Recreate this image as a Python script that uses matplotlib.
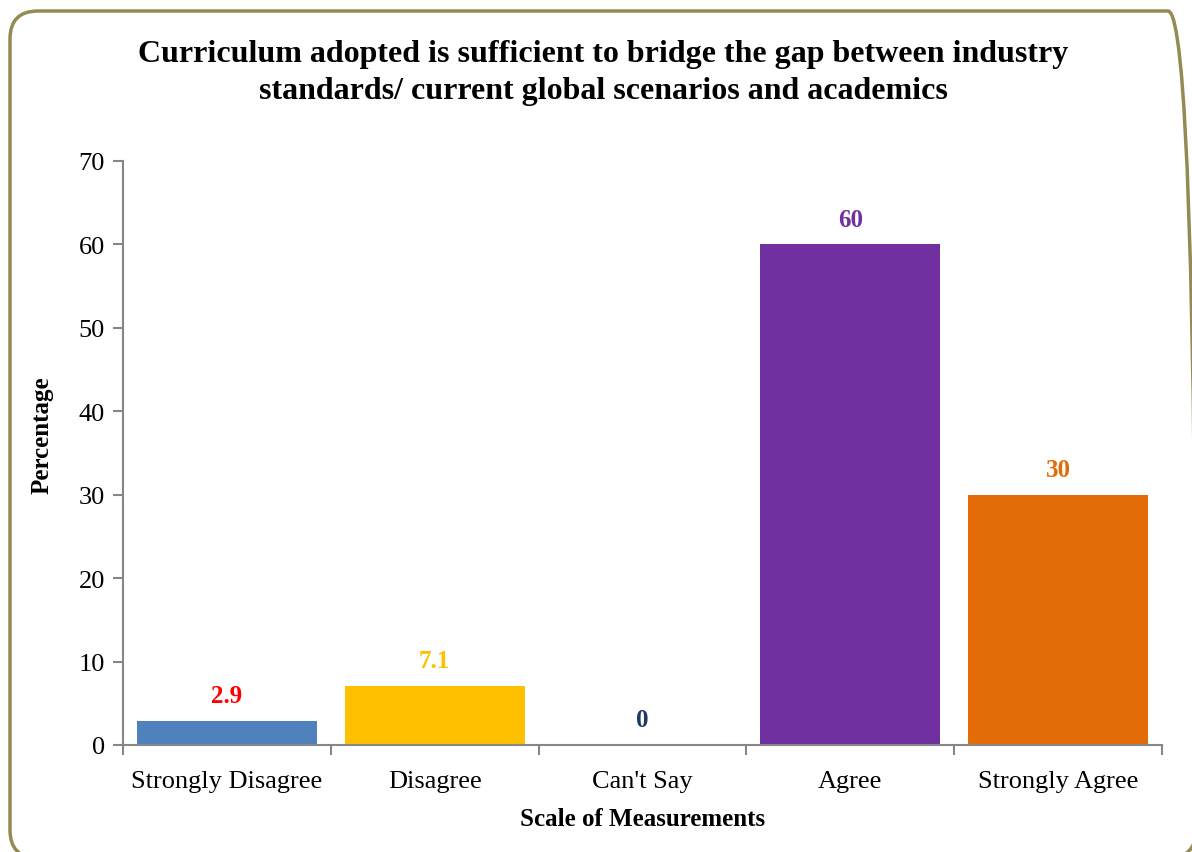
import matplotlib
matplotlib.use('Agg')
import matplotlib.pyplot as plt
from matplotlib.patches import FancyBboxPatch
from matplotlib.transforms import IdentityTransform
import numpy as np

# Datos del gráfico
categories = ['Strongly Disagree', 'Disagree', "Can't Say", 'Agree', 'Strongly Agree']
values = [2.9, 7.1, 0, 60, 30]
value_labels = ['2.9', '7.1', '0', '60', '30']
bar_colors = ['#4F81BD', '#FFC000', '#4F81BD', '#7030A0', '#E36C09']
label_colors = ['#FF0000', '#FFC000', '#1F3864', '#7030A0', '#E36C09']

plt.rcParams['font.family'] = ['Liberation Serif', 'DejaVu Serif']

W, H = 1192, 853
fig = plt.figure(figsize=(W / 100, H / 100), dpi=100)

# Borde redondeado del gráfico (en píxeles)
border = FancyBboxPatch((10, -6), W + 4 - 10, H - 12 + 6,
                        boxstyle='round,pad=0,rounding_size=28',
                        transform=IdentityTransform(), fill=False,
                        edgecolor='#948A54', linewidth=2.5, clip_on=False)
fig.patches.append(border)

ax = fig.add_axes([123 / W, 1 - 746 / H, (1162 - 123) / W, (746 - 162) / H])
x = np.arange(len(categories))
ax.bar(x, values, width=0.865, color=bar_colors)

ax.set_xlim(-0.5, len(categories) - 0.5)
ax.set_ylim(0, 70)
ax.set_yticks(range(0, 71, 10))
ax.set_xticks(x)
ax.set_xticklabels(categories, fontsize=19)
ax.tick_params(axis='x', length=0, pad=18)
ax.set_xticks(np.arange(-0.5, len(categories)), minor=True)
ax.tick_params(axis='x', which='minor', length=7, color='#868686', width=1.5)
ax.tick_params(axis='y', length=7, color='#868686', width=1.5, labelsize=19, pad=6)

for s in ['top', 'right']:
    ax.spines[s].set_visible(False)
for s in ['left', 'bottom']:
    ax.spines[s].set_color('#868686')
    ax.spines[s].set_linewidth(1.5)

for xi, v, lab, c in zip(x, values, value_labels, label_colors):
    ax.annotate(lab, (xi, v), xytext=(0, 10), textcoords='offset points',
                ha='center', va='bottom', fontsize=18, fontweight='bold', color=c)

ax.set_xlabel('Scale of Measurements', fontsize=18, fontweight='bold', labelpad=11)
ax.set_ylabel('Percentage', fontsize=18, fontweight='bold')
ax.yaxis.set_label_coords(-0.067, 0.532)

fig.text(603 / W, 1 - 73 / H,
         'Curriculum adopted is sufficient to bridge the gap between industry\n'
         'standards/ current global scenarios and academics',
         ha='center', va='center', fontsize=23, fontweight='bold', linespacing=1.35)

fig.savefig('out.png', dpi=100)
